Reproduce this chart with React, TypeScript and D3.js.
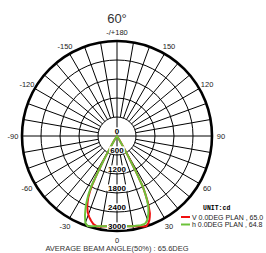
import * as d3 from 'd3'

// polar candela plot, 0deg points down, positive to the right
const angles = [-40, -35, -32, -30, -29, -28, -27, -26, -25, -24, -23, -22, -21, -20, -19, -18, -17, -15, -12, -10, -5, 0, 5, 10, 12, 15, 17, 18, 19, 20, 21, 22, 23, 24, 25, 26, 27, 28, 29, 30, 32, 35, 40]
const vPlan = [0, 0, 150, 450, 800, 1250, 1700, 1950, 2150, 2280, 2400, 2490, 2580, 2640, 2700, 2750, 2800, 2880, 2930, 2900, 2860, 2850, 2860, 2890, 2910, 2950, 2990, 2990, 2960, 2910, 2850, 2760, 2660, 2480, 2300, 2050, 1800, 1250, 750, 400, 120, 0, 0]
const hPlan = [0, 0, 150, 450, 800, 1250, 1800, 2050, 2240, 2420, 2560, 2700, 2810, 2920, 2960, 2990, 2980, 2950, 2910, 2890, 2860, 2850, 2860, 2890, 2900, 2920, 2915, 2900, 2860, 2800, 2730, 2640, 2540, 2430, 2250, 2050, 1800, 1250, 700, 350, 100, 0, 0]

const ringValues = [600, 1200, 1800, 2400, 3000]
const angleTicks = [-150, -120, -90, -60, -30, 0, 30, 60, 90, 120, 150, 180]
const seriesNames = ['V 0.0DEG PLAN , 65.0', 'h 0.0DEG PLAN , 64.8']
const seriesColors = ['#f01010', '#6cc23a']
const title = '60°'
const unitLabel = 'UNIT:cd'
const footer = 'AVERAGE BEAM ANGLE(50%) : 65.6DEG'

const W = 266
const H = 253
const cx = 117
const cy = 136
const maxR = 95

export default function App() {
  const r = d3.scaleLinear().domain([0, 3000]).range([0, maxR])
  const rad = (deg: number) => Math.PI - (deg * Math.PI) / 180 // d3 angle, clockwise from up
  const pt = (deg: number, radius: number) => [
    radius * Math.sin(rad(deg)),
    -radius * Math.cos(rad(deg)),
  ]

  const line = d3
    .lineRadial<[number, number]>()
    .angle(d => rad(d[0]))
    .radius(d => r(d[1]))
    .curve(d3.curveLinearClosed)

  const series = [vPlan, hPlan].map(vals => angles.map((a, i) => [a, vals[i]] as [number, number]))
  const spokes = d3.range(0, 360, 10)
  const sans = 'Arial, "Liberation Sans", sans-serif'

  return (
    <svg width={W} height={H} style={{ position: 'absolute', left: 0, top: 0, background: '#fff' }}>
      <text x={cx} y={23} textAnchor="middle" fontFamily={sans} fontSize={13} fill="#333">{title}</text>
      <g transform={`translate(${cx},${cy})`}>
        {/* rings */}
        {ringValues.slice(0, -1).map(v => (
          <circle key={v} r={r(v)} fill="none" stroke="#000" strokeWidth={1} />
        ))}
        {/* spokes */}
        {spokes.map(a => {
          const inner = a % 90 === 0 ? 0 : r(ringValues[0])
          const [x1, y1] = pt(a, inner)
          const [x2, y2] = pt(a, maxR)
          return <line key={a} x1={x1} y1={y1} x2={x2} y2={y2} stroke="#000" strokeWidth={1} />
        })}
        <circle r={maxR} fill="none" stroke="#000" strokeWidth={2.6} />

        {/* curves */}
        {series.map((s, i) => (
          <path key={i} d={line(s) ?? ''} fill="none" stroke={seriesColors[i]} strokeWidth={2} strokeLinejoin="round" />
        ))}

        {/* intensity labels */}
        {[0, ...ringValues].map(v => {
          const y = r(v) - 2.4
          const txt = `${v}`
          const w = txt.length * 4.5 + 2
          return (
            <g key={v}>
              <rect x={-w / 2} y={y - 6.2} width={w} height={7} fill="#fff" />
              <text x={0} y={y} textAnchor="middle" fontFamily={sans} fontSize={8} fontWeight="bold" fill="#000">{txt}</text>
            </g>
          )
        })}

        {/* angle labels */}
        {angleTicks.map(a => {
          const [x, y] = pt(a, 104)
          return (
            <text key={a} x={x} y={y + 2.6} textAnchor="middle" fontFamily={sans} fontSize={7.5} fill="#222">
              {a === 180 ? '-/+180' : `${a}`}
            </text>
          )
        })}
      </g>

      {/* legend */}
      <text x={203} y={209.5} fontFamily='"Liberation Mono", monospace' fontWeight="bold" fontSize={6.5} fill="#000">{unitLabel}</text>
      {seriesNames.map((n, i) => (
        <g key={n} transform={`translate(181,${217 + i * 7.5})`}>
          <line x1={0} x2={9} y1={0} y2={0} stroke={seriesColors[i]} strokeWidth={2} />
          <text x={11} y={2.7} fontFamily={sans} fontSize={7} fill="#222">{n}</text>
        </g>
      ))}

      <text x={cx} y={250.5} textAnchor="middle" fontFamily={sans} fontSize={7.5} fill="#333">{footer}</text>
    </svg>
  )
}
